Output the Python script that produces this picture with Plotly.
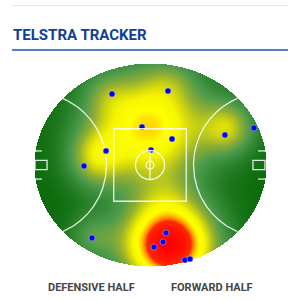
import numpy as np
import plotly.graph_objects as go

# ---- data (field coordinates in metres, origin at centre, y up) ----
shot_x = [-26.2, -5.5, -30.3, -45.5, 12.4, 15.2, 0.7, 51.7, 71.7, -40.0, 11.0, 9.0, 2.8, 24.1, 27.6]
shot_y = [49.0, 26.2, 9.7, -0.7, 51.0, 17.9, 10.3, 20.7, 25.5, -50.3, -46.9, -53.1, -56.6, -65.5, -64.8]

# heat hotspots (centre, intensity, spread in metres)
heat_x = [12.8, -1.0, -37.9, 53.8, 10.3, -31.0, -40.0, 14.0]
heat_y = [-55.0, 26.0, 4.8, 25.5, -20.0, 48.0, -50.0, 58.0]
heat_w = [1.0, 0.67, 0.32, 0.36, 0.08, 0.12, 0.2, 0.1]
heat_sx = [21.5, 28.0, 13.0, 13.0, 14.0, 11.0, 12.0, 12.0]
heat_sy = [20.5, 27.0, 14.0, 13.0, 12.0, 11.0, 12.0, 10.0]

title_text = "TELSTRA TRACKER"
half_labels = ["DEFENSIVE HALF", "FORWARD HALF"]

# ---- field geometry ----
A, B = 80.0, 70.0          # oval half-length / half-width
SQ = 25.0                  # centre square half size
CC_R, CC_r = 10.0, 2.7     # centre circles
ARC_R = 50.0
GS_D, GS_W = 9.0, 3.2
POST_Y = 9.7

# ---- heat surface ----
step = 1 / 1.45
gx = np.arange(-A, A + step / 2, step)
gy = np.arange(-B, B + step / 2, step)
XX, YY = np.meshgrid(gx, gy)
Z = np.zeros_like(XX)
for hx, hy, hw, hsx, hsy in zip(heat_x, heat_y, heat_w, heat_sx, heat_sy):
    Z += hw * np.exp(-((XX - hx) ** 2 / (2 * hsx ** 2) + (YY - hy) ** 2 / (2 * hsy ** 2)))
Z = np.clip(Z, 0, 1)
inside = (XX / A) ** 2 + (YY / B) ** 2 <= 1.0
Z = np.where(inside, Z, np.nan)
zl = [[None if np.isnan(v) else round(float(v), 3) for v in row] for row in Z]

cscale = [
    [0.0, "#0b6a0b"],
    [0.1, "#2a822a"],
    [0.22, "#4c9a4c"],
    [0.34, "#8fae34"],
    [0.45, "#d4d80c"],
    [0.52, "#f5f500"],
    [0.62, "#ffff00"],
    [0.68, "#ffd000"],
    [0.74, "#ff8800"],
    [0.79, "#ff2800"],
    [1.0, "#ff0000"],
]

fig = go.Figure()
fig.add_trace(go.Heatmap(x=gx, y=gy, z=zl, colorscale=cscale, zmin=0, zmax=1,
                         showscale=False, zsmooth=False, hoverinfo="skip"))

line_col = "rgba(255,255,255,0.85)"
lw = 1.3

def arc_points(cx, sign):
    th = np.linspace(-np.pi / 2, np.pi / 2, 2001)
    px = cx + sign * ARC_R * np.cos(th)
    py = ARC_R * np.sin(th)
    ok = (px / A) ** 2 + (py / B) ** 2 <= 1.0
    return px[ok], py[ok]

for cx, sgn in [(-A, 1), (A, -1)]:
    ax_, ay_ = arc_points(cx, sgn)
    fig.add_trace(go.Scatter(x=ax_, y=ay_, mode="lines", line=dict(color=line_col, width=lw),
                             hoverinfo="skip", showlegend=False))

shapes = []
shapes.append(dict(type="rect", x0=-SQ, x1=SQ, y0=-SQ, y1=SQ, line=dict(color=line_col, width=lw)))
shapes.append(dict(type="circle", x0=-CC_R, x1=CC_R, y0=-CC_R, y1=CC_R, line=dict(color=line_col, width=lw)))
shapes.append(dict(type="circle", x0=-CC_r, x1=CC_r, y0=-CC_r, y1=CC_r, line=dict(color=line_col, width=lw)))
shapes.append(dict(type="line", x0=0, x1=0, y0=-CC_R, y1=CC_R, line=dict(color=line_col, width=lw)))
for s in (-1, 1):
    xe = s * 79.3
    shapes.append(dict(type="rect", x0=xe, x1=s * (A - GS_D), y0=-GS_W, y1=GS_W,
                       line=dict(color=line_col, width=lw)))
    for py in (-POST_Y, POST_Y):
        shapes.append(dict(type="line", x0=xe, x1=s * 74.5, y0=py, y1=py,
                           line=dict(color=line_col, width=lw)))
# header lines
shapes.append(dict(type="line", xref="paper", yref="paper", x0=12 / 300, x1=288 / 300,
                   y0=1 - 5.5 / 300, y1=1 - 5.5 / 300, line=dict(color="#e2e6ee", width=1)))
shapes.append(dict(type="line", xref="paper", yref="paper", x0=12 / 300, x1=288 / 300,
                   y0=1 - 50 / 300, y1=1 - 50 / 300, line=dict(color="#1c55b5", width=1.5)))

fig.add_trace(go.Scatter(x=shot_x, y=shot_y, mode="markers",
                         marker=dict(color="#0000ff", size=6,
                                     line=dict(color="rgba(220,220,255,0.7)", width=0.6)),
                         hoverinfo="skip", showlegend=False))

annotations = [
    dict(text=f"<b>{title_text}</b>", xref="paper", yref="paper", x=11 / 300, y=1 - 35.5 / 300,
         xanchor="left", yanchor="middle", showarrow=False,
         font=dict(family="Roboto", size=15, color="#123e96")),
    dict(text=f"<b>{half_labels[0]}</b>", xref="paper", yref="paper", x=91 / 300, y=1 - 287 / 300,
         xanchor="center", yanchor="middle", showarrow=False,
         font=dict(family="Roboto", size=11, color="#454545")),
    dict(text=f"<b>{half_labels[1]}</b>", xref="paper", yref="paper", x=212 / 300, y=1 - 287 / 300,
         xanchor="center", yanchor="middle", showarrow=False,
         font=dict(family="Roboto", size=11, color="#454545")),
]

fig.update_layout(
    width=300, height=300, margin=dict(l=0, r=0, t=0, b=0),
    paper_bgcolor="white", plot_bgcolor="white",
    xaxis=dict(range=[-103.45, 103.45], visible=False, fixedrange=True),
    yaxis=dict(range=[-93.1, 113.8], visible=False, fixedrange=True),
    shapes=shapes, annotations=annotations, showlegend=False,
)
fig.write_html("out.html")
